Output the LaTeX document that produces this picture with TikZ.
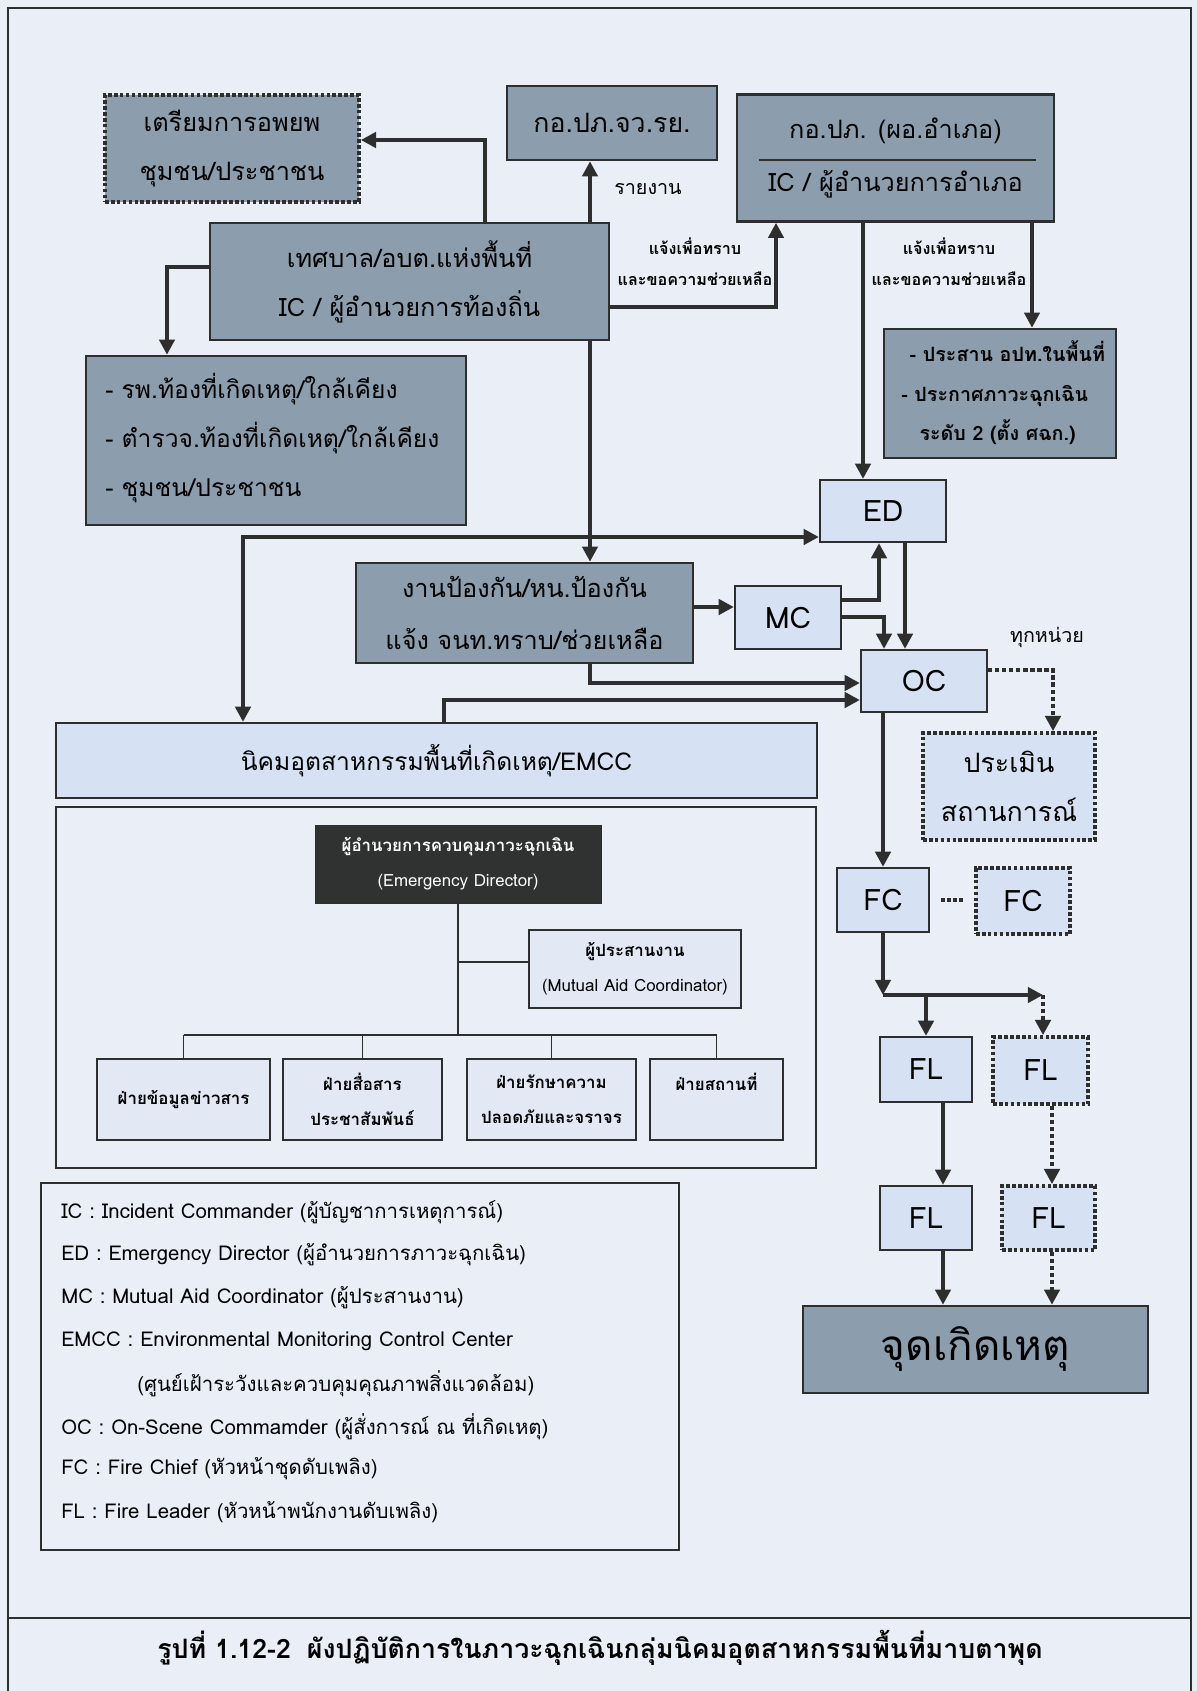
\documentclass[tikz,border=0pt]{standalone}
\usepackage{fontspec}
\setmainfont[Script=Thai]{Loma}
\usetikzlibrary{arrows.meta, positioning, fit, calc}
\definecolor{cpage}{HTML}{E9EEF7}
\definecolor{cdark}{HTML}{8C9DAE}
\definecolor{clight}{HTML}{D6E2F3}
\definecolor{corg}{HTML}{E2E9F5}
\definecolor{cline}{HTML}{2E2E2E}
\definecolor{cnight}{HTML}{303131}
\tikzset{
  every picture/.style={x=0.025cm, y=-0.025cm},
  sized/.style 2 args={minimum width={#1*0.025cm}, minimum height={#2*0.025cm}},
  darkbox/.style={draw=cline, fill=cdark, line width=1.8pt, inner sep=0pt, align=center, font=\fontsize{18}{35}\selectfont},
  lightbox/.style={draw=cline, fill=clight, line width=1.6pt, inner sep=0pt, align=center, font=\fontsize{21}{26}\selectfont},
  dotframe/.style={dash pattern=on 2.6pt off 1.6pt, line width=2.6pt},
  orgbox/.style={draw=cline, fill=corg, line width=1.2pt, inner sep=0pt, align=center, font=\bfseries\fontsize{12}{25}\selectfont},
  orgline/.style={draw=cline, line width=1.3pt},
  arrow/.style={draw=cline, line width=3.2pt, -{Triangle[length=0.38cm, width=0.38cm]}},
  dotarrow/.style={arrow, dash pattern=on 3pt off 2pt},
  note/.style={font=\bfseries\fontsize{11.5}{22}\selectfont, align=center},
  legendtext/.style={anchor=west, inner sep=0pt, font=\fontsize{14.5}{18}\selectfont},
}

\begin{document}
\begin{tikzpicture}
  \useasboundingbox (0,0) rectangle (1197,1691);
  \fill[cpage] (0,0) rectangle (1197,1691);
  % page frame and caption
  \draw[cline, line width=1.6pt] (8,1691) -- (8,8) -- (1191,8) -- (1191,1691);
  \draw[cline, line width=1.6pt] (8,1618) -- (1191,1618);
  \node[font=\bfseries\fontsize{19}{22}\selectfont] (caption) at (600,1648) {รูปที่ 1.12-2\hspace{0.6em}ผังปฏิบัติการในภาวะฉุกเฉินกลุ่มนิคมอุตสาหกรรมพื้นที่มาบตาพุด};

  % upper level
  \node[darkbox, dotframe, sized={254}{107}] (evac) at (232,148.5) {เตรียมการอพยพ\\ชุมชน/ประชาชน};
  \node[darkbox, sized={210}{74}, font=\fontsize{19}{22}\selectfont] (kprov) at (612,123) {กอ.ปภ.จว.รย.};
  \node[darkbox, sized={317}{127}, font=\fontsize{18}{38}\selectfont] (kdist) at (895.5,158) {กอ.ปภ. (ผอ.อำเภอ)\\IC / ผู้อำนวยการอำเภอ};
  \draw[cline, line width=1.6pt] ($(kdist.west)+(23,2)$) -- ($(kdist.east)+(-19,2)$);
  \node[darkbox, sized={399}{117}] (tessaban) at (409.5,281.5) {เทศบาล/อบต.แห่งพื้นที่\\IC / ผู้อำนวยการท้องถิ่น};
  \node[darkbox, fit={(86,356) (466,525)}] (services) {};
  \node[anchor=west, align=left, inner sep=0pt, font=\fontsize{17.5}{35}\selectfont] (servicesText) at (105,438)
    {- รพ.ท้องที่เกิดเหตุ/ใกล้เคียง\\- ตำรวจ.ท้องที่เกิดเหตุ/ใกล้เคียง\\- ชุมชน/ประชาชน};
  \node[darkbox, fit={(884,329) (1116,458)}] (declare) {};
  \node[anchor=west, align=left, inner sep=0pt, font=\bfseries\fontsize{14}{28}\selectfont] (declareText) at (901,393)
    {\hspace*{6pt}- ประสาน อปท.ในพื้นที่\\- ประกาศภาวะฉุกเฉิน\\\hspace*{13pt}ระดับ 2 (ตั้ง ศฉก.)};

  % command chain
  \node[lightbox, sized={126}{62}] (ED) at (883,511) {ED};
  \node[darkbox, sized={337}{100}, font=\fontsize{18}{37}\selectfont] (prevent) at (524.5,613) {งานป้องกัน/หน.ป้องกัน\\แจ้ง จนท.ทราบ/ช่วยเหลือ};
  \node[lightbox, sized={106}{63}] (MC) at (788,617.5) {MC};
  \node[lightbox, sized={126}{62}] (OC) at (924,681) {OC};
  \node[lightbox, sized={761}{75}, font=\fontsize{17.5}{22}\selectfont] (EMCC) at (436.5,760.5) {นิคมอุตสาหกรรมพื้นที่เกิดเหตุ/EMCC};
  \node[lightbox, dotframe, sized={172}{107}, font=\fontsize{19}{35}\selectfont] (assess) at (1009,786.5) {ประเมิน\\สถานการณ์};
  \node[font=\fontsize{14}{16}\selectfont] (allUnits) at (1047,637) {ทุกหน่วย};

  % fire teams
  \node[lightbox, sized={92}{64}] (FC) at (883,900) {FC};
  \node[lightbox, dotframe, sized={94}{66}] (FCb) at (1023,901) {FC};
  \node[lightbox, sized={92}{65}] (FLa) at (926,1069.5) {FL};
  \node[lightbox, dotframe, sized={95}{67}] (FLb) at (1040.5,1070.5) {FL};
  \node[lightbox, sized={92}{64}] (FLc) at (926,1218) {FL};
  \node[lightbox, dotframe, sized={93}{64}] (FLd) at (1048.5,1218) {FL};
  \node[darkbox, sized={345}{87}, font=\fontsize{30}{34}\selectfont] (site) at (975.5,1349.5) {จุดเกิดเหตุ};

  % emergency organisation
  \node[draw=cline, line width=2pt, inner sep=0pt, fit={(56,807) (816,1168)}] (orgFrame) {};
  \node[draw=cline, fill=cnight, text=white, inner sep=0pt, align=center, sized={286}{78},
        font=\fontsize{12}{25}\selectfont] (edChief) at (458,864) {\textbf{ผู้อำนวยการควบคุมภาวะฉุกเฉิน}\\(Emergency Director)};
  \node[orgbox, sized={212}{78}] (coord) at (635,969) {ผู้ประสานงาน\\\mdseries (Mutual Aid Coordinator)};
  \node[orgbox, sized={173}{81}] (depA) at (183.5,1099.5) {ฝ่ายข้อมูลข่าวสาร};
  \node[orgbox, sized={159}{81}] (depB) at (362.5,1099.5) {ฝ่ายสื่อสาร\\ประชาสัมพันธ์};
  \node[orgbox, sized={169}{81}] (depC) at (551.5,1099.5) {ฝ่ายรักษาความ\\ปลอดภัยและจราจร};
  \node[orgbox, sized={133}{81}] (depD) at (716.5,1099.5) {ฝ่ายสถานที่\\\mbox{}};
  \coordinate (orgHub) at (458,1035);
  \coordinate (coordTap) at (458,962);
  \draw[orgline] (edChief.south) -- (orgHub);
  \draw[orgline] (coordTap) -- (coord.west |- coordTap);
  \draw[orgline] (depA.north |- orgHub) -- (depD.north |- orgHub);
  \foreach \d in {depA,depB,depC,depD} \draw[orgline] (\d.north |- orgHub) -- (\d.north);

  % legend
  \node[draw=cline, line width=1.6pt, inner sep=0pt, fit={(41,1183) (679,1550)}] (legendFrame) {};
  \foreach \lx/\ly/\lt [count=\i] in {
      61/1212/{IC : Incident Commander (ผู้บัญชาการเหตุการณ์)},
      61/1255/{ED : Emergency Director (ผู้อำนวยการภาวะฉุกเฉิน)},
      61/1298/{MC : Mutual Aid Coordinator (ผู้ประสานงาน)},
      61/1341/{EMCC : Environmental Monitoring Control Center},
      137/1384/{(ศูนย์เฝ้าระวังและควบคุมคุณภาพสิ่งแวดล้อม)},
      61/1427/{OC : On-Scene Commamder (ผู้สั่งการณ์ ณ ที่เกิดเหตุ)},
      61/1469/{FC : Fire Chief (หัวหน้าชุดดับเพลิง)},
      61/1512/{FL : Fire Leader (หัวหน้าพนักงานดับเพลิง)}}
    \node[legendtext] (legend\i) at (\lx,\ly) {\lt};

  % bends
  \coordinate (bendEvac) at (485,140);
  \coordinate (midX) at (590,683);
  \coordinate (bendDist) at (776,307);
  \coordinate (bendServ) at (167,267);
  \coordinate (bendEM) at (243,537);
  \coordinate (downED) at (863,400);
  \coordinate (downDecl) at (1032,300);
  \coordinate (bendMCup) at (879,600);
  \coordinate (bendMCdn) at (884,617);
  \coordinate (downOC) at (905,600);
  \coordinate (bendEMCC) at (444,700);
  \coordinate (bendAssess) at (1053,670);
  \coordinate (split) at (883,995);
  \coordinate (splitEnd) at (1043,995);
  \coordinate (mainRun) at (943,1150);
  \coordinate (spareRun) at (1052,1150);

  % connectors
  \draw[arrow] (tessaban.north -| bendEvac) -- (bendEvac) -- (evac.east |- bendEvac);
  \draw[arrow] (tessaban.north -| midX) -- (kprov.south -| midX);
  \node[font=\fontsize{14}{16}\selectfont] (lblReport) at (648,189) {รายงาน};
  \draw[arrow] (tessaban.east |- bendDist) -- (bendDist) -- (kdist.south -| bendDist);
  \node[note] (lblAskA) at (695,262) {แจ้งเพื่อทราบ\\และขอความช่วยเหลือ};
  \draw[arrow] (tessaban.west |- bendServ) -- (bendServ) -- (services.north -| bendServ);
  \draw[arrow] (tessaban.south -| midX) -- (prevent.north -| midX);
  \draw[arrow] (kdist.south -| downED) -- (ED.north -| downED);
  \node[note] (lblAskB) at (949,262) {แจ้งเพื่อทราบ\\และขอความช่วยเหลือ};
  \draw[arrow] (kdist.south -| downDecl) -- (declare.north -| downDecl);
  \draw[arrow, {Triangle[length=0.38cm, width=0.38cm]}-{Triangle[length=0.38cm, width=0.38cm]}]
    (EMCC.north -| bendEM) -- (bendEM) -- (ED.west |- bendEM);
  \draw[arrow] (prevent.east |- 0,607) -- (MC.west |- 0,607);
  \draw[arrow] (MC.east |- bendMCup) -- (bendMCup) -- (ED.south -| bendMCup);
  \draw[arrow] (MC.east |- bendMCdn) -- (bendMCdn) -- (OC.north -| bendMCdn);
  \draw[arrow] (ED.south -| downOC) -- (OC.north -| downOC);
  \draw[arrow] (prevent.south -| midX) -- (midX) -- (OC.west |- midX);
  \draw[arrow] (EMCC.north -| bendEMCC) -- (bendEMCC) -- (OC.west |- bendEMCC);
  \draw[dotarrow] (OC.east |- bendAssess) -- (bendAssess) -- (assess.north -| bendAssess);
  \draw[arrow] (OC.south -| FC.north) -- (FC.north);
  \draw[cline, line width=2.6pt, dash pattern=on 2.6pt off 1.6pt, shorten <=8pt, shorten >=8pt] (FC.east) -- (FCb.west |- FC.east);
  \draw[arrow] (FC.south -| split) -- (split);
  \draw[arrow] (split) -- (splitEnd);
  \draw[arrow] (FLa.north |- split) -- (FLa.north);
  \draw[dotarrow] (splitEnd) -- (FLb.north -| splitEnd);
  \draw[arrow] (FLa.south -| mainRun) -- (FLc.north -| mainRun);
  \draw[arrow] (FLc.south -| mainRun) -- (site.north -| mainRun);
  \draw[dotarrow] (FLb.south -| spareRun) -- (FLd.north -| spareRun);
  \draw[dotarrow] (FLd.south -| spareRun) -- (site.north -| spareRun);
\end{tikzpicture}
\end{document}
